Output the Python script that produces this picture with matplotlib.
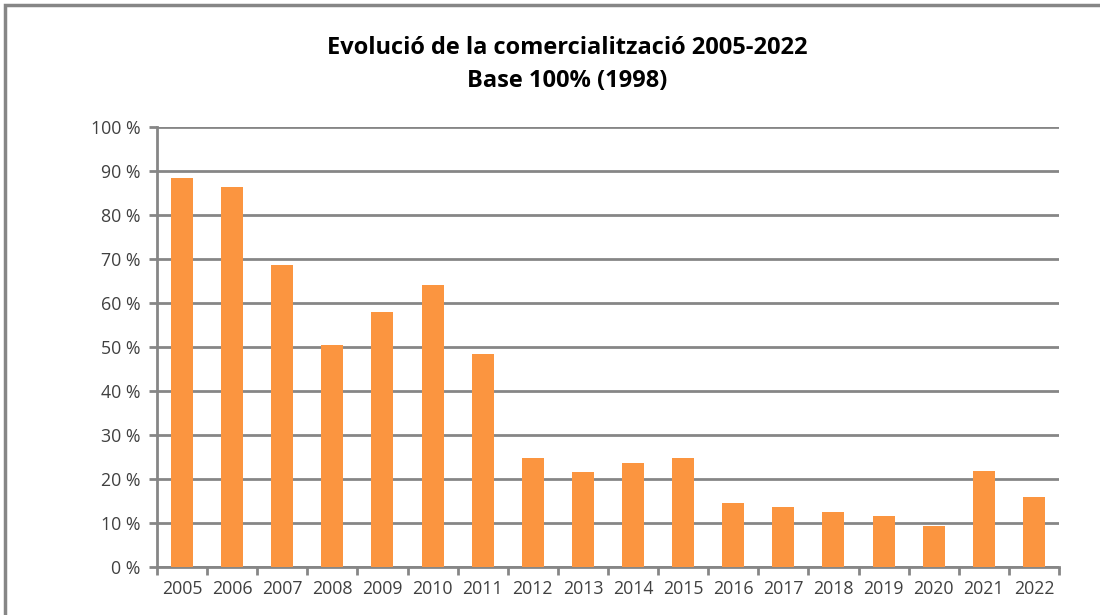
import numpy as np
import matplotlib.pyplot as plt
from matplotlib.patches import Rectangle

plt.rcParams['font.family'] = ['Open Sans', 'DejaVu Sans']

###Data (percent of 1998 base)###
years = ['2005', '2006', '2007', '2008', '2009', '2010', '2011', '2012', '2013',
         '2014', '2015', '2016', '2017', '2018', '2019', '2020', '2021', '2022']
values = [88.4, 86.3, 68.6, 50.5, 58.0, 64.1, 48.4, 24.8, 21.6,
          23.6, 24.8, 14.6, 13.7, 12.5, 11.7, 9.4, 21.9, 16.0]
yticks = list(range(0, 101, 10))

grid_col = '#868686'
bar_col = '#FB9540'
text_col = '#404040'

fig = plt.figure(figsize=(11, 6.15), dpi=100)
ax = fig.add_axes([0.1427, 0.078, 0.82, 0.7155])

x = np.arange(len(years))
ax.bar(x, values, width=0.44, color=bar_col, zorder=3)

ax.set_ylim(0, 100)
ax.set_xlim(-0.5, len(years) - 0.5)
ax.set_yticks(yticks)
ax.set_yticklabels([f'{v} %' for v in yticks])
ax.set_xticks(x)
ax.set_xticklabels(years)
ax.tick_params(axis='x', length=0, pad=9, labelsize=12.8, labelcolor=text_col)
ax.tick_params(axis='y', length=6, width=2, color=grid_col, pad=6,
               labelsize=12.8, labelcolor=text_col)

# category boundary ticks on the x axis
ax.set_xticks(np.arange(-0.5, len(years)), minor=True)
ax.tick_params(axis='x', which='minor', length=6, width=2, color=grid_col)

ax.yaxis.grid(True, color=grid_col, linewidth=2)
ax.set_axisbelow(True)
for s in ['top', 'right']:
    ax.spines[s].set_visible(False)
for s in ['left', 'bottom']:
    ax.spines[s].set_color(grid_col)
    ax.spines[s].set_linewidth(2)

fig.text(0.516, 0.922, 'Evolució de la comercialització 2005-2022', ha='center',
         va='center', fontsize=17, fontweight='bold', color='#000000')
fig.text(0.516, 0.868, 'Base 100% (1998)', ha='center', va='center',
         fontsize=17, fontweight='bold', color='#000000')

###outer chart frame###
fig.patches.append(Rectangle((5 / 1100, -0.1), 1.2, 1.1 - 5 / 615, transform=fig.transFigure,
                             fill=False, edgecolor=grid_col, linewidth=2.5))

fig.savefig('out.png', dpi=100)
